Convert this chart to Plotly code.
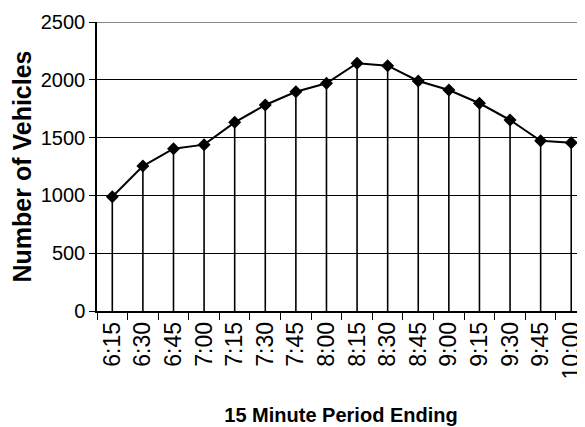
import plotly.graph_objects as go

periods = ["6:15", "6:30", "6:45", "7:00", "7:15", "7:30", "7:45", "8:00",
           "8:15", "8:30", "8:45", "9:00", "9:15", "9:30", "9:45", "10:00"]
vehicles = [988, 1254, 1404, 1439, 1632, 1782, 1897, 1970,
            2143, 2122, 1990, 1912, 1797, 1652, 1473, 1456]
y_ticks = [0, 500, 1000, 1500, 2000, 2500]

FONT = "Liberation Sans, Arial, sans-serif"

fig = go.Figure()
fig.add_trace(go.Scatter(
    x=periods, y=vehicles, mode="lines+markers",
    line=dict(color="black", width=2),
    marker=dict(symbol="diamond", size=10, color="black"),
    error_y=dict(type="data", symmetric=False, array=[0] * len(vehicles),
                 arrayminus=vehicles, width=0, color="black", thickness=1.6),
    showlegend=False,
))

fig.add_shape(type="line", xref="paper", yref="y", x0=0, x1=1, y0=2500, y1=2500,
              line=dict(color="#888888", width=2), layer="above")

fig.update_layout(
    width=577, height=419,
    margin=dict(l=89, r=0, t=14, b=116, autoexpand=False),
    paper_bgcolor="white", plot_bgcolor="white",
    font=dict(family=FONT, color="black"),
    xaxis=dict(
        type="category", categoryorder="array", categoryarray=periods,
        range=[-0.5, 15.45], automargin=False,
        tickson="boundaries", ticks="outside", ticklen=7, tickcolor="black",
        tickangle=-90, tickfont=dict(size=23, family=FONT),
        showgrid=False, showline=True, linecolor="black", linewidth=1.5,
        zeroline=False,
        title=dict(text="<b>15 Minute Period Ending</b>",
                   font=dict(size=20, family=FONT), standoff=29),
    ),
    yaxis=dict(
        range=[0, 2500], tickvals=y_ticks, automargin=False,
        ticks="outside", ticklen=6, tickcolor="black",
        tickfont=dict(size=20, family=FONT),
        showgrid=True, gridcolor="black", gridwidth=1,
        showline=True, linecolor="black", linewidth=1.5,
        zeroline=False,
        title=dict(text="<b>Number of Vehicles</b>",
                   font=dict(size=25, family=FONT), standoff=6),
    ),
)

fig.write_html("out.html")
